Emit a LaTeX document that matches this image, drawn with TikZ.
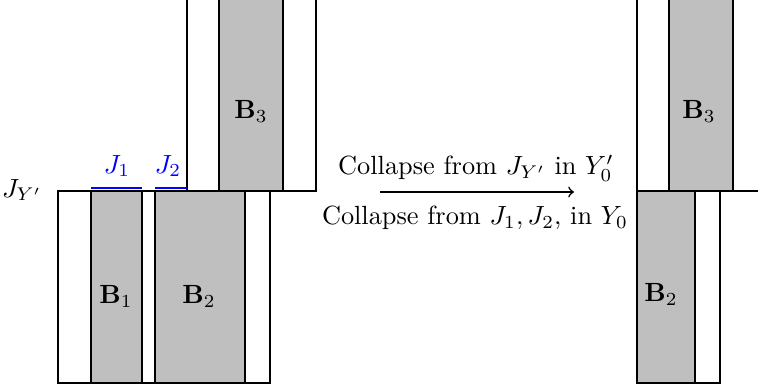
\documentclass[tikz,border=0pt]{standalone}
\begin{document}
\begin{tikzpicture}[x=0.38pt,y=-0.38pt,
  box/.style={draw=black,line width=0.6pt},
  blk/.style={draw=black,fill=gray!50,line width=0.6pt},
  jline/.style={draw=blue,line width=0.6pt},
  lbl/.style={inner sep=0pt}]
\useasboundingbox (0,0) rectangle (758,389);
\clip (0,0) rectangle (758,389);
% left lower
\draw[box] (58,191) rectangle (270,383);
\draw[blk] (91,191) rectangle (142,383);
\draw[blk] (155,191) rectangle (245,383);
% left upper
\draw[box] (187,-10) rectangle (316,191);
\draw[blk] (219,-10) rectangle (283,191);
\draw[box] (58,191) -- (245,191);
% blue intervals
\draw[jline] (91,188) -- (142,188);
\draw[jline] (155,188) -- (187,188);
\node[lbl,text=blue] (j1) at (117,166) {$J_1$};
\node[lbl,text=blue] (j2) at (168,166) {$J_2$};
\node[lbl] (jy) at (22,190) {$J_{Y'}$};
\node[lbl] (b1) at (116,296) {$\mathbf{B}_1$};
\node[lbl] (b2) at (199,296) {$\mathbf{B}_2$};
\node[lbl] (b3) at (251,111) {$\mathbf{B}_3$};
% arrow
\coordinate (as) at (380,192);
\coordinate (ae) at (574,192);
\draw[->,line width=0.6pt] (as) -- (ae);
\node[lbl] (top) at (476,168) {Collapse from $J_{Y'}$ in $Y_0'$};
\node[lbl] (bot) at (475,218) {Collapse from $J_1, J_2$, in $Y_0$};
% right upper
\draw[box] (637,-10) rectangle (770,191);
\draw[blk] (669,-10) rectangle (733,191);
% right lower
\draw[box] (637,191) rectangle (720,383);
\draw[blk] (637,191) rectangle (695,383);
\node[lbl] (rb3) at (699,111) {$\mathbf{B}_3$};
\node[lbl] (rb2) at (661,294) {$\mathbf{B}_2$};
\end{tikzpicture}
\end{document}
